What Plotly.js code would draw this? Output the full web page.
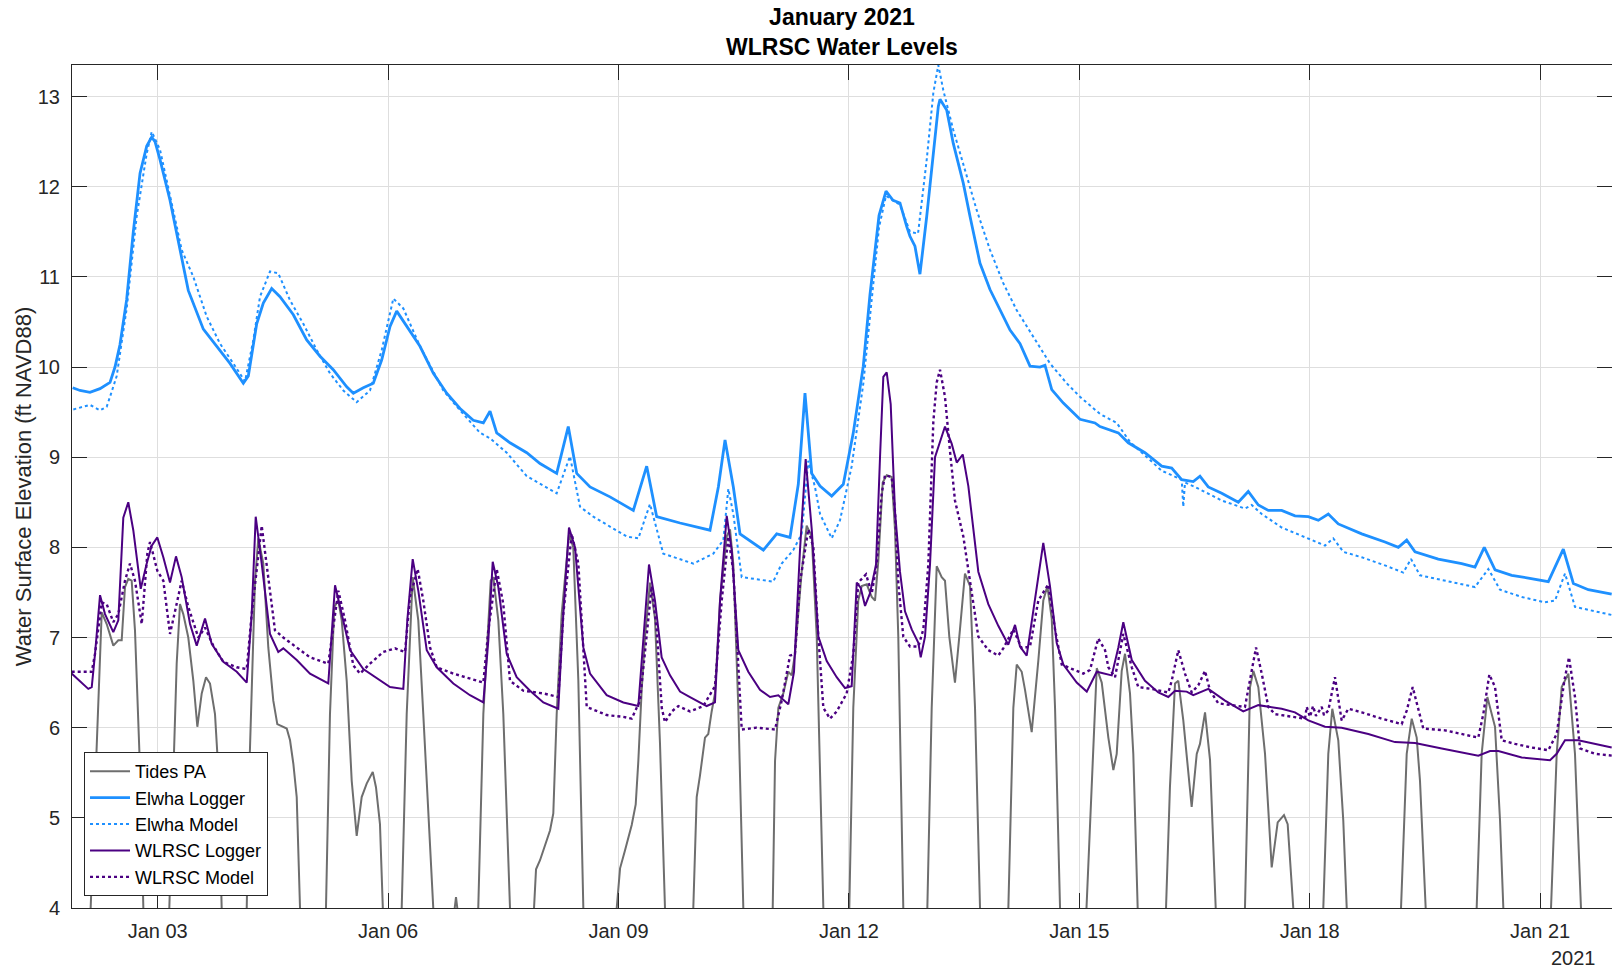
<!DOCTYPE html>
<html>
<head>
<meta charset="utf-8">
<script src="https://cdn.plot.ly/plotly-3.0.1.min.js"></script>
<style>
html,body{margin:0;padding:0;background:#fff;}
#chart{width:1612px;height:973px;}
</style>
</head>
<body>
<div id="chart"></div>
<script>
// Times are decimal day-of-month in January 2021 (e.g. 3.5 = Jan 03 12:00)
const tidesT = [1.884,2.127,2.271,2.336,2.422,2.487,2.531,2.574,2.617,2.661,2.704,2.770,2.813,2.978,3.151,3.203,3.247,3.290,3.333,3.398,3.464,3.516,3.573,3.629,3.681,3.746,3.789,3.833,3.993,4.159,4.193,4.267,4.310,4.375,4.440,4.505,4.557,4.680,4.723,4.766,4.810,4.853,5.022,5.191,5.243,5.299,5.352,5.396,5.461,5.526,5.591,5.656,5.721,5.800,5.842,5.894,5.937,6.051,6.177,6.242,6.320,6.393,6.458,6.523,6.588,6.728,6.871,6.884,6.901,7.027,7.174,7.240,7.336,7.370,7.435,7.500,7.587,7.743,7.900,7.926,7.978,8.021,8.108,8.151,8.195,8.260,8.356,8.411,8.477,8.542,8.760,8.977,9.020,9.085,9.172,9.224,9.258,9.302,9.345,9.410,9.475,9.540,9.605,9.788,9.974,10.018,10.061,10.126,10.169,10.213,10.256,10.322,10.408,10.452,10.495,10.560,10.625,10.817,11.008,11.038,11.081,11.146,11.211,11.255,11.298,11.385,11.450,11.516,11.581,11.667,11.832,12.005,12.057,12.122,12.167,12.232,12.297,12.340,12.383,12.440,12.492,12.557,12.600,12.643,12.708,12.861,13.021,13.078,13.143,13.208,13.251,13.307,13.381,13.446,13.511,13.577,13.642,13.707,13.889,14.076,14.141,14.185,14.250,14.293,14.380,14.466,14.531,14.584,14.641,14.684,14.749,14.918,15.096,15.161,15.227,15.292,15.378,15.443,15.487,15.552,15.595,15.660,15.703,15.760,15.946,16.129,16.180,16.246,16.289,16.354,16.463,16.529,16.571,16.637,16.702,16.776,16.962,17.157,17.223,17.266,17.331,17.418,17.505,17.583,17.665,17.713,17.786,17.977,18.177,18.242,18.294,18.372,18.437,18.482,18.837,19.189,19.263,19.328,19.393,19.436,19.510,19.840,20.174,20.239,20.313,20.413,20.478,20.521,20.829,21.142,21.216,21.281,21.368,21.454,21.532,21.932];
const tidesV = [2.0,4.0,7.28,7.15,6.91,6.97,6.97,7.56,7.65,7.63,7.08,5.53,4.0,1.5,4.0,5.53,6.71,7.37,7.26,7.0,6.52,6.01,6.38,6.56,6.49,6.15,5.53,4.0,1.0,4.0,5.53,7.63,8.1,7.82,6.89,6.3,6.04,5.99,5.86,5.6,5.23,4.0,1.0,4.0,6.15,7.34,7.41,7.19,6.52,5.41,4.8,5.23,5.38,5.51,5.34,4.93,4.0,1.0,4.0,6.15,7.67,7.19,6.15,5.05,4.0,3.0,4.0,4.12,4.0,3.0,4.0,6.15,7.63,7.67,7.19,6.15,4.0,2.5,4.0,4.43,4.53,4.64,4.86,5.05,6.15,7.26,8.15,8.0,6.52,4.0,1.5,4.0,4.44,4.64,4.92,5.15,5.63,6.42,7.01,7.61,7.21,5.83,4.0,1.0,4.0,5.23,5.47,5.89,5.93,6.18,6.38,7.41,8.12,8.2,7.81,6.22,4.0,1.0,4.0,5.63,6.22,6.38,6.62,6.58,6.82,7.73,8.24,8.12,7.01,4.0,0.5,4.0,6.22,7.41,7.57,7.59,7.45,7.41,7.85,8.72,8.8,8.78,8.2,7.01,4.0,0.5,4.0,6.22,7.79,7.67,7.63,7.01,6.5,7.09,7.71,7.57,6.22,4.0,0.5,4.0,6.22,6.7,6.62,6.42,5.95,6.74,7.41,7.57,7.21,6.22,4.0,0.5,4.0,5.43,6.66,6.5,5.89,5.53,5.71,6.63,6.82,6.38,5.71,4.0,0.5,4.0,5.34,6.49,6.52,6.08,5.12,5.71,5.82,6.17,5.64,4.0,1.0,4.0,6.45,6.63,6.45,5.71,4.45,4.95,5.03,4.93,4.0,1.0,4.0,5.71,6.21,5.86,4.97,4.0,1.5,4.0,5.71,6.1,5.89,5.41,4.0,1.5,4.0,5.71,6.34,6.01,4.97,4.0,1.5,4.0,5.71,6.45,6.6,5.71,4.0,1.5];

const elwhaLoggerT = [1.893,1.988,2.118,2.249,2.379,2.444,2.509,2.596,2.682,2.770,2.857,2.922,2.965,3.030,3.160,3.290,3.398,3.594,3.768,3.941,4.115,4.180,4.289,4.375,4.484,4.592,4.766,4.940,5.113,5.286,5.461,5.547,5.677,5.807,5.917,6.025,6.112,6.242,6.415,6.589,6.763,6.936,7.109,7.240,7.327,7.414,7.587,7.805,7.978,8.195,8.346,8.456,8.629,8.889,9.193,9.367,9.497,9.801,10.191,10.300,10.387,10.495,10.582,10.886,11.060,11.233,11.341,11.428,11.516,11.624,11.776,11.927,12.057,12.187,12.274,12.392,12.483,12.574,12.665,12.752,12.795,12.860,12.925,13.013,13.099,13.164,13.186,13.273,13.359,13.489,13.577,13.707,13.837,13.967,14.098,14.228,14.358,14.488,14.553,14.641,14.792,15.009,15.204,15.269,15.508,15.638,15.855,16.073,16.203,16.333,16.484,16.571,16.679,16.854,17.070,17.200,17.331,17.461,17.635,17.808,17.982,18.112,18.242,18.372,18.677,18.980,19.154,19.263,19.371,19.674,19.979,20.152,20.273,20.413,20.630,20.847,21.107,21.302,21.433,21.628,21.932];
const elwhaLoggerV = [9.77,9.74,9.72,9.76,9.83,10.0,10.25,10.75,11.5,12.15,12.45,12.55,12.5,12.3,11.85,11.3,10.85,10.42,10.23,10.04,9.82,9.9,10.48,10.71,10.87,10.78,10.58,10.3,10.12,9.97,9.78,9.71,9.77,9.82,10.08,10.45,10.62,10.45,10.23,9.93,9.71,9.54,9.41,9.38,9.51,9.27,9.16,9.05,8.93,8.82,9.34,8.82,8.67,8.56,8.41,8.9,8.34,8.27,8.19,8.67,9.19,8.67,8.15,7.97,8.15,8.11,8.7,9.71,8.82,8.68,8.57,8.7,9.27,10.01,10.8,11.68,11.95,11.85,11.82,11.56,11.45,11.34,11.03,11.67,12.41,12.89,12.97,12.85,12.48,12.04,11.67,11.15,10.86,10.63,10.41,10.26,10.01,10.0,10.02,9.75,9.6,9.42,9.38,9.34,9.27,9.16,9.05,8.9,8.88,8.75,8.73,8.79,8.67,8.6,8.5,8.62,8.47,8.41,8.41,8.35,8.34,8.3,8.37,8.26,8.15,8.06,8.0,8.08,7.95,7.87,7.82,7.78,8.0,7.75,7.69,7.66,7.62,7.98,7.6,7.53,7.48];

const elwhaModelT = [1.901,2.118,2.249,2.336,2.379,2.466,2.596,2.726,2.857,2.922,3.030,3.117,3.247,3.312,3.464,3.638,3.811,3.985,4.137,4.245,4.332,4.462,4.570,4.723,4.896,5.070,5.243,5.417,5.591,5.764,5.917,6.068,6.198,6.415,6.719,6.936,7.197,7.327,7.544,7.805,8.021,8.195,8.368,8.499,8.672,8.889,9.107,9.258,9.410,9.583,9.801,9.974,10.234,10.365,10.430,10.495,10.604,10.799,11.015,11.125,11.276,11.385,11.471,11.558,11.624,11.776,11.884,12.036,12.188,12.297,12.392,12.483,12.574,12.665,12.795,12.900,13.013,13.099,13.164,13.229,13.359,13.534,13.664,13.837,14.010,14.185,14.401,14.618,14.836,15.009,15.269,15.487,15.660,16.073,16.333,16.354,16.376,16.506,16.854,17.157,17.245,17.375,17.635,17.982,18.199,18.307,18.438,18.677,18.980,19.218,19.319,19.436,19.762,20.152,20.326,20.478,20.760,21.064,21.194,21.324,21.454,21.714,21.932];
const elwhaModelV = [9.53,9.58,9.52,9.56,9.67,9.9,10.65,11.67,12.37,12.61,12.41,12.08,11.56,11.3,11.0,10.56,10.26,10.04,9.84,10.3,10.78,11.06,11.04,10.74,10.48,10.19,9.93,9.74,9.61,9.74,10.19,10.76,10.65,10.23,9.74,9.52,9.27,9.21,9.05,8.79,8.68,8.6,9.01,8.45,8.34,8.23,8.12,8.1,8.48,7.93,7.87,7.82,7.93,8.08,8.65,8.37,7.67,7.65,7.62,7.82,7.97,8.15,8.96,8.67,8.37,8.1,8.3,8.9,9.82,10.75,11.55,11.9,11.85,11.8,11.5,11.48,12.3,13.04,13.35,13.07,12.63,12.11,11.74,11.3,10.93,10.63,10.34,10.04,9.82,9.67,9.48,9.38,9.17,8.85,8.75,8.45,8.72,8.67,8.52,8.43,8.47,8.37,8.22,8.1,8.02,8.1,7.95,7.89,7.8,7.72,7.87,7.69,7.63,7.56,7.76,7.53,7.45,7.39,7.41,7.71,7.34,7.29,7.25];

const wlrscLoggerT = [1.880,1.988,2.096,2.141,2.184,2.249,2.314,2.422,2.487,2.552,2.617,2.682,2.779,2.857,2.922,2.995,3.073,3.160,3.238,3.312,3.421,3.508,3.616,3.703,3.854,4.029,4.159,4.224,4.276,4.354,4.462,4.570,4.635,4.810,4.983,5.221,5.309,5.396,5.504,5.677,5.894,6.025,6.198,6.250,6.320,6.393,6.503,6.633,6.849,7.066,7.240,7.305,7.362,7.435,7.544,7.674,7.848,8.021,8.216,8.281,8.355,8.434,8.542,8.629,8.846,9.063,9.258,9.323,9.397,9.475,9.562,9.671,9.801,9.931,10.061,10.148,10.256,10.322,10.409,10.474,10.560,10.690,10.842,10.973,11.081,11.211,11.285,11.363,11.437,11.516,11.602,11.711,11.841,11.949,12.036,12.102,12.154,12.210,12.274,12.353,12.405,12.448,12.492,12.544,12.600,12.665,12.730,12.818,12.904,12.935,12.991,13.056,13.121,13.251,13.338,13.404,13.482,13.555,13.685,13.815,13.945,14.075,14.163,14.228,14.315,14.423,14.531,14.618,14.706,14.792,14.966,15.097,15.227,15.422,15.508,15.573,15.683,15.855,16.029,16.159,16.246,16.398,16.484,16.680,16.897,17.135,17.331,17.635,17.808,17.982,18.199,18.416,18.763,19.110,19.371,19.719,20.195,20.348,20.456,20.760,21.129,21.216,21.324,21.497,21.714,21.932];
const wlrscLoggerV = [6.6,6.52,6.43,6.45,6.82,7.47,7.26,7.06,7.19,8.33,8.5,8.19,7.54,7.82,8.02,8.11,7.89,7.61,7.9,7.67,7.15,6.91,7.21,6.93,6.73,6.62,6.5,7.26,8.34,7.82,7.04,6.84,6.88,6.75,6.6,6.49,7.58,7.26,6.86,6.65,6.52,6.45,6.43,7.19,7.87,7.52,6.86,6.67,6.49,6.36,6.28,6.97,7.84,7.56,6.82,6.56,6.41,6.28,6.21,7.26,8.22,8.0,6.89,6.6,6.36,6.28,6.24,7.01,7.81,7.41,6.78,6.58,6.4,6.34,6.28,6.24,6.28,7.41,8.35,7.97,6.86,6.62,6.42,6.34,6.36,6.26,6.62,7.97,8.98,8.2,7.01,6.74,6.56,6.44,6.46,7.61,7.55,7.35,7.49,7.81,9.0,9.89,9.94,9.59,8.4,7.73,7.29,7.09,6.94,6.78,7.01,7.81,9.0,9.34,9.15,8.94,9.03,8.68,7.73,7.37,7.13,6.92,7.14,6.9,6.8,7.41,8.05,7.57,6.94,6.7,6.5,6.4,6.62,6.58,6.89,7.17,6.75,6.52,6.39,6.34,6.41,6.4,6.36,6.43,6.3,6.18,6.25,6.21,6.17,6.08,6.01,6.0,5.93,5.84,5.83,5.77,5.69,5.74,5.74,5.67,5.64,5.71,5.86,5.86,5.82,5.78];

const wlrscModelT = [1.880,2.141,2.184,2.271,2.336,2.422,2.487,2.574,2.639,2.704,2.792,2.865,2.900,2.995,3.073,3.160,3.238,3.312,3.398,3.529,3.616,3.724,3.854,4.029,4.159,4.224,4.354,4.419,4.527,4.635,4.810,4.983,5.221,5.287,5.352,5.439,5.547,5.634,5.764,5.937,6.090,6.220,6.285,6.385,6.458,6.546,6.633,6.849,7.066,7.240,7.305,7.414,7.500,7.587,7.760,8.021,8.216,8.281,8.391,8.477,8.586,8.846,9.063,9.172,9.280,9.367,9.432,9.497,9.563,9.605,9.693,9.779,9.931,10.104,10.256,10.344,10.430,10.495,10.560,10.604,10.799,11.038,11.125,11.233,11.298,11.363,11.471,11.537,11.602,11.667,11.754,11.841,11.971,12.058,12.122,12.223,12.297,12.362,12.427,12.470,12.557,12.600,12.643,12.708,12.795,12.904,12.969,13.034,13.099,13.143,13.186,13.251,13.316,13.381,13.490,13.577,13.685,13.815,13.945,14.010,14.141,14.250,14.358,14.466,14.596,14.684,14.771,14.879,15.052,15.139,15.247,15.335,15.378,15.465,15.573,15.683,15.768,15.943,16.159,16.203,16.289,16.376,16.464,16.549,16.637,16.702,16.810,17.157,17.223,17.301,17.375,17.461,17.548,17.808,17.939,17.961,18.004,18.043,18.082,18.156,18.186,18.242,18.329,18.416,18.503,18.677,18.937,19.198,19.263,19.341,19.414,19.479,19.762,19.979,20.195,20.260,20.339,20.413,20.500,20.673,20.890,21.107,21.216,21.315,21.376,21.454,21.519,21.714,21.932];
const wlrscModelV = [6.62,6.62,6.82,7.39,7.37,7.17,7.26,7.63,7.82,7.63,7.15,7.93,8.06,7.74,7.63,7.04,7.34,7.63,7.34,7.0,7.11,6.91,6.73,6.67,6.65,7.26,8.24,7.82,7.08,7.0,6.89,6.78,6.71,7.15,7.52,7.19,6.69,6.6,6.71,6.84,6.88,6.84,7.45,7.76,7.41,6.89,6.67,6.6,6.54,6.5,7.08,7.76,7.37,6.52,6.41,6.38,6.34,7.26,8.15,7.82,6.23,6.14,6.12,6.1,6.3,7.01,7.57,7.09,6.22,6.06,6.18,6.24,6.18,6.24,6.46,7.41,8.12,7.73,6.62,5.98,6.0,5.98,6.3,6.8,6.82,7.61,8.2,8.0,7.01,6.22,6.1,6.18,6.38,6.82,7.61,7.7,7.49,7.81,8.6,8.8,8.78,8.4,7.61,7.01,6.9,6.9,7.09,7.81,9.39,9.83,9.97,9.67,9.07,8.52,8.12,7.61,7.01,6.86,6.8,6.88,7.09,6.88,6.9,7.41,7.59,7.09,6.7,6.66,6.6,6.64,6.99,6.86,6.67,6.56,7.04,6.67,6.45,6.43,6.39,6.52,6.86,6.6,6.39,6.47,6.63,6.41,6.27,6.23,6.52,6.89,6.6,6.23,6.15,6.12,6.1,6.23,6.12,6.24,6.13,6.23,6.14,6.19,6.56,6.08,6.21,6.17,6.1,6.04,6.19,6.45,6.19,5.99,5.97,5.93,5.89,6.15,6.59,6.45,5.86,5.82,5.78,5.75,5.93,6.52,6.78,6.34,5.77,5.71,5.69];

const seriesNames = ['Tides PA','Elwha Logger','Elwha Model','WLRSC Logger','WLRSC Model'];
const tickDates = ['2021-01-03','2021-01-06','2021-01-09','2021-01-12','2021-01-15','2021-01-18','2021-01-21'];
const tickLabels = ['Jan 03','Jan 06','Jan 09','Jan 12','Jan 15','Jan 18','Jan 21'];
const yTicks = [4,5,6,7,8,9,10,11,12,13];
const xRangeDays = [1.884, 21.936];
const yRange = [4, 13.35];
const yearLabel = '2021';

function toDate(t){
  const ms = Date.UTC(2021,0,1) + (t-1)*86400000;
  return new Date(ms).toISOString().slice(0,19).replace('T',' ');
}
const dates = a => a.map(toDate);

const FONT = '"Liberation Sans", Arial, Helvetica, sans-serif';
const BLUE = '#1e90ff', PURPLE = '#4b0082', GRAY = '#6e6e6e';

const traces = [
  {x: dates(tidesT), y: tidesV, name: seriesNames[0], mode:'lines', line:{color:GRAY, width:2}},
  {x: dates(elwhaLoggerT), y: elwhaLoggerV, name: seriesNames[1], mode:'lines', line:{color:BLUE, width:2.8}},
  {x: dates(elwhaModelT), y: elwhaModelV, name: seriesNames[2], mode:'lines', line:{color:BLUE, width:2, dash:'dot'}},
  {x: dates(wlrscLoggerT), y: wlrscLoggerV, name: seriesNames[3], mode:'lines', line:{color:PURPLE, width:2}},
  {x: dates(wlrscModelT), y: wlrscModelV, name: seriesNames[4], mode:'lines', line:{color:PURPLE, width:2.4, dash:'dot'}}
];

const axisCommon = {
  showline:true, linecolor:'#262626', linewidth:1, mirror:'ticks',
  ticks:'inside', ticklen:15, tickwidth:1, tickcolor:'#262626',
  showgrid:true, gridcolor:'#dedede', gridwidth:1, zeroline:false,
  tickfont:{family:FONT, size:20, color:'#262626'}
};

const layout = {
  width:1612, height:973,
  paper_bgcolor:'#ffffff', plot_bgcolor:'#ffffff',
  margin:{l:72, r:0, t:65, b:65, pad:0},
  showlegend:true,
  title:{text:'<b>January 2021</b><br><b>WLRSC Water Levels</b>', font:{family:FONT, size:23, color:'#000000'},
         xref:'paper', x:0.5, xanchor:'center', yref:'container', y:0.9744, yanchor:'top'},
  xaxis: Object.assign({}, axisCommon, {
    type:'date', range:[toDate(xRangeDays[0]), toDate(xRangeDays[1])],
    tickmode:'array', tickvals:tickDates, ticktext:tickLabels, ticklabelstandoff:5
  }),
  yaxis: Object.assign({}, axisCommon, {
    range:yRange, tickmode:'array', tickvals:yTicks, ticktext:yTicks.map(String), ticklabelstandoff:7,
    title:{text:'Water Surface Elevation (ft NAVD88)', font:{family:FONT, size:22, color:'#262626'}, standoff:0}
  }),
  legend:{x:0.0078, y:0.0142, xanchor:'left', yanchor:'bottom', bgcolor:'#ffffff',
          bordercolor:'#262626', borderwidth:1, font:{family:FONT, size:18, color:'#000000'},
          itemwidth:40, tracegroupgap:0},
  annotations:[{text:yearLabel, xref:'paper', yref:'paper', x:0.9753, y:-0.0593, xanchor:'center', yanchor:'middle',
                showarrow:false, font:{family:FONT, size:20, color:'#262626'}}]
};

Plotly.newPlot('chart', traces, layout, {displayModeBar:false, staticPlot:true});
</script>
</body>
</html>
